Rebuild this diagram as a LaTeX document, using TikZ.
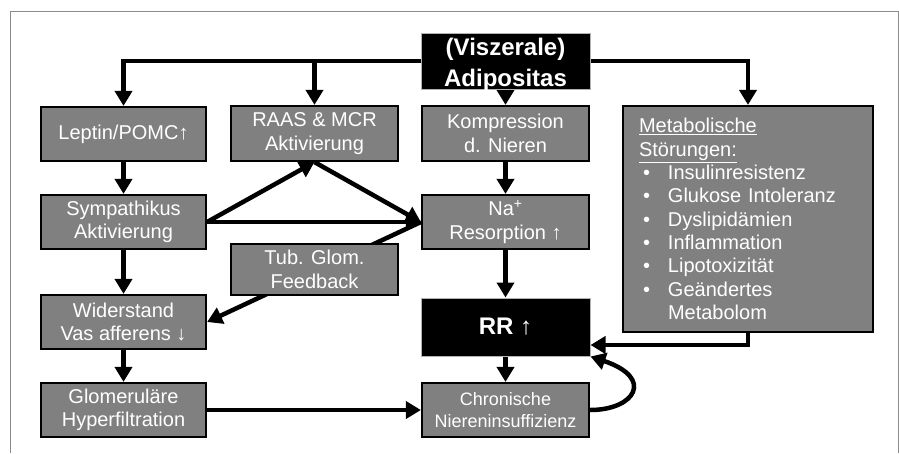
\documentclass[tikz,border=0pt]{standalone}
\usepackage{fontspec}
\setmainfont{Liberation Sans}
\usetikzlibrary{arrows.meta,backgrounds}
\definecolor{boxgray}{HTML}{808080}
\definecolor{framegray}{HTML}{8C8C8C}
\newcommand\bul{\makebox[29pt][l]{\hspace*{4pt}•}}
\begin{document}
\begin{tikzpicture}[x=1pt,y=-1pt,
  gbox/.style={draw=black,line width=2.2pt,fill=boxgray,text=white,inner sep=0pt,
    align=center,font=\fontsize{20}{23.5}\selectfont},
  bbox/.style={draw=gray!60,line width=1pt,fill=black,text=white,inner sep=0pt,align=center},
  arr/.style={line width=4.5pt,-{Triangle[length=15pt,width=17pt]}},
  frame/.style={draw=framegray,line width=1pt}]
\useasboundingbox (0,0) rectangle (899,453);
% nodes
\node[bbox,minimum width=169pt,minimum height=56pt] (adip) at (505.5,61) {};
\node[text=white,align=center,inner sep=0pt,font=\bfseries\fontsize{24}{31}\selectfont]
  (adiptext) at (505.5,65) {(Viszerale)\\Adipositas};
\node[gbox,minimum width=165pt,minimum height=54pt] (lep) at (123.5,134) {Leptin/POMC↑};
\node[gbox,minimum width=167pt,minimum height=55pt] (raas) at (314.5,133.5) {RAAS \& MCR\\Aktivierung};
\node[gbox,minimum width=167pt,minimum height=55pt] (komp) at (505.5,133.5) {Kompression\\d. Nieren};
\node[gbox,minimum width=250pt,minimum height=226pt,text width=218pt,align=left,
  font=\fontsize{20}{23.3}\selectfont] (met) at (748,219)
  {\underline{Metabolische}\\
   \underline{Störungen:}\\
   \bul Insulinresistenz\\
   \bul Glukose Intoleranz\\
   \bul Dyslipidämien\\
   \bul Inflammation\\
   \bul Lipotoxizität\\
   \bul Geändertes\\
   \hspace*{29pt}Metabolom};
\node[gbox,minimum width=165pt,minimum height=54pt] (sym) at (123.5,222) {Sympathikus\\Aktivierung};
\node[gbox,minimum width=167pt,minimum height=54pt] (na) at (505.5,222) {Na\textsuperscript{+}\\Resorption ↑};
\node[gbox,minimum width=167pt,minimum height=51pt] (tub) at (314.5,269.5) {Tub. Glom.\\Feedback};
\node[gbox,minimum width=165pt,minimum height=54pt] (wid) at (123.5,322) {Widerstand\\Vas afferens ↓};
\node[bbox,minimum width=169pt,minimum height=58pt,font=\fontsize{24}{28}\selectfont] (rr) at (505.5,327) {\textbf{RR} ↑};
\node[gbox,minimum width=165pt,minimum height=54pt] (glom) at (123.5,410) {Glomeruläre\\Hyperfiltration};
\node[gbox,minimum width=167pt,minimum height=54pt,font=\fontsize{18}{22}\selectfont] (chr) at (505.5,410) {Chronische\\Niereninsuffizienz};
\coordinate (rrin) at ([yshift=-18pt]rr.east);
% connectors
\begin{scope}[on background layer]
\draw[frame] (10,453) -- (10,11) -- (898,11) -- (898,453);
\draw[arr] (adip.west) -| (lep.north);
\draw[arr] (raas.north |- adip.west) -- (raas.north);
\draw[arr] (adip.south) -- (komp.north);
\draw[arr] (adip.east) -| (met.north);
\draw[arr] (lep.south) -- (sym.north);
\draw[arr] (sym.south) -- (wid.north);
\draw[arr] (wid.south) -- (glom.north);
\draw[arr] (sym.east) -- (raas.south);
\draw[arr] (raas.south) -- (na.west);
\draw[arr] (sym.east) -- (na.west);
\draw[arr] (na.west) -- (wid.east);
\draw[arr] (komp.south) -- (na.north);
\draw[arr] (na.south) -- (rr.north);
\draw[arr] (rr.south) -- (chr.north);
\draw[arr] (glom.east) -- (chr.west);
\draw[arr] (met.south) |- (rrin);
\draw[arr] (chr.east) .. controls (635,410) and (655,378) .. (rr.south east);
\end{scope}
\end{tikzpicture}
\end{document}
